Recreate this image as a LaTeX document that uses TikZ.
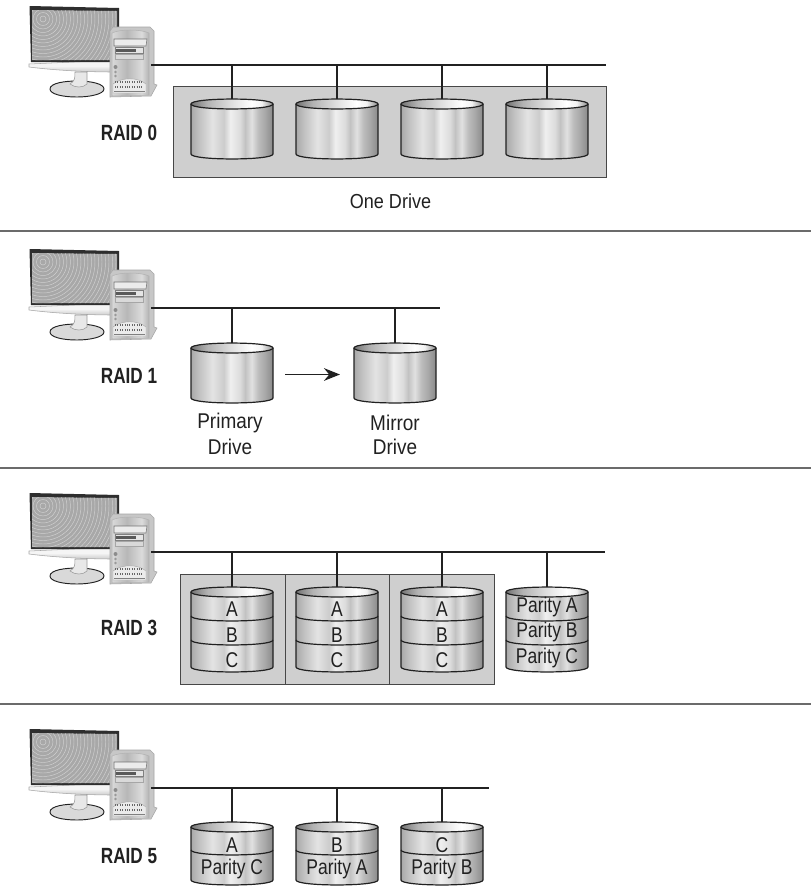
\documentclass[tikz,border=0pt]{standalone}
\usepackage{fontspec}
\setmainfont[FakeStretch=0.89]{Liberation Sans}
\newfontfamily\raidfont[FakeStretch=0.78,BoldFont={Liberation Sans Bold}]{Liberation Sans}
\newfontfamily\cylfont[FakeStretch=0.82]{Liberation Sans}
\usetikzlibrary{arrows.meta}
\definecolor{ink}{gray}{0.13}
\definecolor{panel}{gray}{0.81}
\definecolor{rule}{gray}{0.42}
\pgfdeclarehorizontalshading{cylbody}{100bp}{color(0bp)=(black!34);color(25bp)=(black!34);color(30bp)=(black!24);color(38bp)=(black!11);color(45bp)=(black!20);color(49bp)=(black!6);color(55bp)=(black!14);color(58bp)=(black!24);color(62bp)=(black!12);color(66bp)=(black!26);color(70bp)=(black!34);color(75bp)=(black!46);color(100bp)=(black!46)}
\pgfdeclarehorizontalshading{cyltop}{100bp}{color(0bp)=(black!55);color(25bp)=(black!55);color(35bp)=(black!30);color(50bp)=(black!12);color(62bp)=(white);color(68bp)=(black!5);color(75bp)=(black!45);color(100bp)=(black!45)}
\pgfdeclarehorizontalshading{towerbody}{100bp}{color(0bp)=(black!15);color(25bp)=(black!15);color(45bp)=(black!28);color(65bp)=(black!14);color(75bp)=(black!30);color(100bp)=(black!30)}
\pgfdeclareverticalshading{bezel}{100bp}{color(0bp)=(black!20);color(25bp)=(black!20);color(50bp)=(black!4);color(75bp)=(black!4);color(100bp)=(black!4)}
\tikzset{
  x=0.75pt,y=-0.75pt,
  bus/.style={draw=ink,line width=1.5pt},
  drop/.style={draw=ink,line width=1.2pt},
  sep/.style={draw=rule,line width=1.3pt},
  panelbox/.style={draw=black!72,fill=panel,line width=0.75pt},
  raidlabel/.style={font=\raidfont\fontsize{16.5}{18}\selectfont\bfseries,text=ink,inner sep=0pt},
  onedrive/.style={font=\fontsize{15.2}{18}\selectfont,text=ink,inner sep=0pt},
  drivetext/.style={font=\fontsize{16}{18}\selectfont,text=ink,inner sep=0pt,align=center},
  cyltext/.style={font=\cylfont\fontsize{16}{16}\selectfont,text=ink,inner sep=0pt},
  cyledge/.style={draw=ink,line width=0.9pt},
  pc/.pic={
    % monitor
    \path[draw=black!35,shade,shading=bezel,line width=.4pt] (29,64) -- (29,67) .. controls (60,71) and (95,72) .. (112,72) -- (119,66) -- (119,60) -- cycle;
    % stand and base
    \path[fill=black!15,draw=ink,line width=.7pt] (50,89) .. controls (50,83) and (65,81) .. (77,81) .. controls (92,81) and (104,84) .. (104,89) .. controls (104,94) and (90,97) .. (77,97) .. controls (62,97) and (50,94) .. (50,89) -- cycle;
    \path[fill=black!9,draw=black!40,line width=.4pt] (75,72) .. controls (75,78) and (75,81) .. (70,84) .. controls (75,88) and (83,88) .. (87,84) -- (87,72) -- cycle;
    \path[fill=black!82] (29.5,6) -- (119,8) -- (119,62) -- (31,62) -- cycle;
    \begin{scope}
      \clip (32,10) -- (117,11) -- (117,60) -- (32,60) -- cycle;
      \fill[black!34] (30,8) rectangle (119,62);
      \foreach \r in {3,6.5,...,100}{\draw[black!18,line width=.35pt] (43,19) circle[radius=\r*0.75pt];}
    \end{scope}
    % tower
    \path[fill=black!22,draw=black!35,line width=.4pt] (110,31) -- (113,27) -- (150,27) -- (154,31) -- (154,84) -- (157,85) -- (151,96) -- (110,97) -- cycle;
    \path[draw=black!30,shade,shading=towerbody,line width=.4pt] (112,33) .. controls (120,29) and (140,29) .. (149,33) -- (149,95) -- (112,96) -- cycle;
    \path[fill=black!8,draw=black!55,line width=.4pt] (114,39) -- (147,39) -- (146,46) -- (114,46) -- cycle;
    \path[fill=black!10,draw=black!50,line width=.4pt] (115,47) -- (143,47) -- (143,53) -- (115,53) -- cycle;
    \path[fill=black!65] (116,49) rectangle (136,52);
    \path[fill=black!15,draw=black!35,line width=.3pt] (115,54) rectangle (143,59);
    \path[fill=black!45] (115.5,67) circle[radius=1.5pt];
    \path[fill=black!40] (115.5,72) circle[radius=1pt] (115.5,76) circle[radius=1pt];
    \path[fill=black!8,draw=black!35,line width=.3pt] (113,93) -- (113,84) .. controls (122,77) and (138,77) .. (146,84) -- (146,93) -- cycle;
    \foreach \yy in {82,87}{\draw[black!60,line width=1pt,dash pattern=on .8pt off 1pt] (115,\yy) -- (143,\yy);}
    \draw[black!50,line width=.5pt] (114,91) -- (145,91);
  }
}
% name, cx, y of top ellipse centre, y of body bottom, list of band edge y
\newcommand{\drum}[5]{%
  \path[shade,shading=cylbody] (#2-41,#3) -- (#2-41,#4) .. controls (#2-41,#4+6.6) and (#2+41,#4+6.6) .. (#2+41,#4) -- (#2+41,#3) -- cycle;
  \foreach \bandy in {#5}{\path[cyledge] (#2-41,\bandy) .. controls (#2-41,\bandy+6.6) and (#2+41,\bandy+6.6) .. (#2+41,\bandy);}
  \path[cyledge] (#2-41,#3) -- (#2-41,#4) .. controls (#2-41,#4+6.6) and (#2+41,#4+6.6) .. (#2+41,#4) -- (#2+41,#3);
  \path[shade,shading=cyltop] (#2-41,#3) .. controls (#2-41,#3-6.6) and (#2+41,#3-6.6) .. (#2+41,#3) .. controls (#2+41,#3+6.6) and (#2-41,#3+6.6) .. (#2-41,#3) -- cycle;
  \path[cyledge] (#2-41,#3) .. controls (#2-41,#3-6.6) and (#2+41,#3-6.6) .. (#2+41,#3) .. controls (#2+41,#3+6.6) and (#2-41,#3+6.6) .. (#2-41,#3) -- cycle;
  \coordinate (#1) at (#2,#3-5);
}
\begin{document}
\begin{tikzpicture}
\useasboundingbox (0,0) rectangle (811,886);
\fill[white] (0,0) rectangle (811,886);

% separators
\coordinate (s1l) at (0,231); \coordinate (s1r) at (811,231);
\coordinate (s2l) at (0,468); \coordinate (s2r) at (811,468);
\coordinate (s3l) at (0,704); \coordinate (s3r) at (811,704);
\draw[sep] (s1l) -- (s1r); \draw[sep] (s2l) -- (s2r); \draw[sep] (s3l) -- (s3r);

% computers
\pic at (0,0) {pc};
\pic at (0,243) {pc};
\pic at (0,487) {pc};
\pic at (0,723) {pc};

% ---------- RAID 0
\node[panelbox,minimum width=433*0.75pt,minimum height=91*0.75pt,inner sep=0pt,anchor=north west] (box0) at (173,86) {};
\coordinate (b0l) at (151,65); \coordinate (b0r) at (606,65);
\draw[bus] (b0l) -- (b0r);
\drum{c01}{232}{104}{154}{}
\drum{c02}{337}{104}{154}{}
\drum{c03}{442}{104}{154}{}
\drum{c04}{547}{104}{154}{}
\foreach \n in {c01,c02,c03,c04}{\draw[drop] (\n) -- (\n |- b0l);}
\node[raidlabel] (r0) at (129,132.5) {RAID 0};
\node[onedrive] (t0) at (390.5,201.5) {One Drive};

% ---------- RAID 1
\coordinate (b1l) at (151,308); \coordinate (b1r) at (440,308);
\draw[bus] (b1l) -- (b1r);
\drum{c11}{232}{348}{398}{}
\drum{c12}{395}{348}{398}{}
\foreach \n in {c11,c12}{\draw[drop] (\n) -- (\n |- b1l);}
\coordinate (a1) at (285,374.5); \coordinate (a2) at (340,374.5);
\draw[draw=ink,line width=1.1pt,-{Stealth[length=12pt,width=9.5pt]}] (a1) -- (a2);
\node[raidlabel] (r1) at (129,376) {RAID 1};
\node[drivetext] (t1) at (230,423) {Primary};
\node[drivetext] (t1b) at (230,447) {Drive};
\node[drivetext] (t2) at (395,423) {Mirror};
\node[drivetext] (t2b) at (395,447) {Drive};

% ---------- RAID 3
\node[panelbox,minimum width=104.5*0.75pt,minimum height=110*0.75pt,inner sep=0pt,anchor=north west] (p1) at (180,574) {};
\node[panelbox,minimum width=104.5*0.75pt,minimum height=110*0.75pt,inner sep=0pt,anchor=north west] (p2) at (284.5,574) {};
\node[panelbox,minimum width=104.5*0.75pt,minimum height=110*0.75pt,inner sep=0pt,anchor=north west] (p3) at (389,574) {};
\coordinate (b3l) at (151,552); \coordinate (b3r) at (605,552);
\draw[bus] (b3l) -- (b3r);
\drum{c31}{232}{592}{667}{616,640}
\drum{c32}{337}{592}{667}{616,640}
\drum{c33}{442}{592}{667}{616,640}
\drum{c34}{547}{592}{667}{616,640}
\foreach \n in {c31,c32,c33,c34}{\draw[drop] (\n) -- (\n |- b3l);}
\foreach \xx/\m in {232/a,337/b,442/c}{
  \node[cyltext] (A\m) at (\xx,609) {A};
  \node[cyltext] (B\m) at (\xx,635) {B};
  \node[cyltext] (C\m) at (\xx,660) {C};
}
\node[cyltext] (pa) at (547,607) {Parity A};
\node[cyltext] (pb) at (547,632) {Parity B};
\node[cyltext] (pc) at (547,658) {Parity C};
\node[raidlabel] (r3) at (129,628) {RAID 3};

% ---------- RAID 5
\coordinate (b5l) at (151,788); \coordinate (b5r) at (489,788);
\draw[bus] (b5l) -- (b5r);
\drum{c51}{232}{827}{880}{850}
\drum{c52}{337}{827}{880}{850}
\drum{c53}{442}{827}{880}{850}
\foreach \n in {c51,c52,c53}{\draw[drop] (\n) -- (\n |- b5l);}
\node[cyltext] (a5) at (232,845) {A};
\node[cyltext] (b5) at (337,845) {B};
\node[cyltext] (c5) at (442,845) {C};
\node[cyltext] (pc5) at (232,869) {Parity C};
\node[cyltext] (pa5) at (337,869) {Parity A};
\node[cyltext] (pb5) at (442,869) {Parity B};
\node[raidlabel] (r5) at (129,856) {RAID 5};
\end{tikzpicture}
\end{document}
